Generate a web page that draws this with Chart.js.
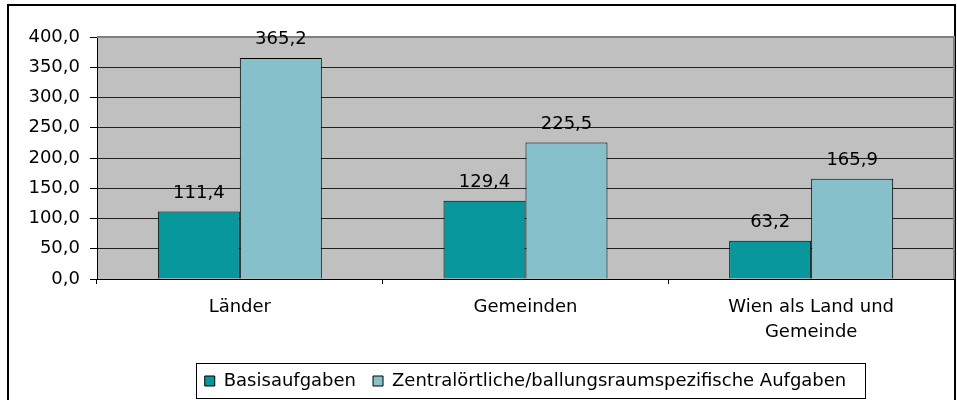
<!DOCTYPE html>
<html>
<head>
<meta charset="utf-8">
<script src="https://cdn.jsdelivr.net/npm/chart.js@4.4.1/dist/chart.umd.min.js"></script>
<style>
  html, body { margin: 0; padding: 0; background: #fff; }
  #wrap { width: 957px; height: 400px; position: relative; }
</style>
</head>
<body>
<div id="wrap"><canvas id="chart" width="957" height="400"></canvas></div>
<script>
// ---- Daten ----
const categories = ["Länder", "Gemeinden", ["Wien als Land und", "Gemeinde"]];
const basisValues = [111.4, 129.4, 63.2];
const zentralValues = [365.2, 225.5, 165.9];
const seriesNames = ["Basisaufgaben", "Zentralörtliche/ballungsraumspezifische Aufgaben"];
const yTicks = [0, 50, 100, 150, 200, 250, 300, 350, 400];

const fmt = v => v.toFixed(1).replace(".", ",");

Chart.defaults.font.family = "'DejaVu Sans', sans-serif";
Chart.defaults.font.size = 18;
Chart.defaults.color = "#000";

// Hintergrund, Rahmen, Beschriftungen
const decor = {
  id: "decor",
  beforeDraw(chart) {
    const c = chart.ctx, a = chart.chartArea;
    c.save();
    c.fillStyle = "#fff";
    c.fillRect(0, 0, chart.width, chart.height);
    c.lineWidth = 2;
    c.strokeStyle = "#000";
    c.strokeRect(8, 5, 947, 410);
    c.fillStyle = "#c0c0c0";
    c.fillRect(a.left, a.top, a.right - a.left, a.bottom - a.top);
    c.restore();
  },
  beforeDatasetsDraw(chart) {
    const c = chart.ctx, a = chart.chartArea;
    c.save();
    c.strokeStyle = "#808080";
    c.lineWidth = 2;
    c.beginPath();
    c.moveTo(a.left, a.top);
    c.lineTo(a.right, a.top);
    c.lineTo(a.right, a.bottom);
    c.stroke();
    c.restore();
  },
  afterDraw(chart) {
    const c = chart.ctx;
    c.save();
    c.font = "18px 'DejaVu Sans', sans-serif";
    c.fillStyle = "#000";
    c.textAlign = "center";
    c.textBaseline = "alphabetic";
    chart.data.datasets.forEach((ds, i) => {
      chart.getDatasetMeta(i).data.forEach((bar, j) => {
        c.fillText(fmt(ds.data[j]), bar.x, bar.y - 14);
      });
    });
    // Legendenrahmen
    const hb = chart.legend.legendHitBoxes;
    if (hb && hb.length) {
      const l = Math.min(...hb.map(h => h.left)) - 9;
      const r = Math.max(...hb.map(h => h.left + h.width)) + 18;
      const t = hb[0].top - 9;
      const b = hb[0].top + hb[0].height + 8;
      c.strokeStyle = "#000";
      c.lineWidth = 1;
      c.strokeRect(Math.round(l) + 0.5, Math.round(t) + 0.5, Math.round(r - l), Math.round(b - t));
    }
    c.restore();
  }
};

new Chart(document.getElementById("chart"), {
  type: "bar",
  data: {
    labels: categories,
    datasets: [
      {
        label: seriesNames[0],
        data: basisValues,
        backgroundColor: "#08979c",
        borderColor: "#000",
        borderWidth: 1,
        categoryPercentage: 0.574,
        barPercentage: 1
      },
      {
        label: seriesNames[1],
        data: zentralValues,
        backgroundColor: "#86c1cb",
        borderColor: "#000",
        borderWidth: 1,
        categoryPercentage: 0.574,
        barPercentage: 1
      }
    ]
  },
  options: {
    responsive: false,
    animation: false,
    layout: { padding: { left: 8, right: 3, top: 37, bottom: 0 } },
    plugins: {
      tooltip: { enabled: false },
      legend: {
        position: "bottom",
        fullSize: false,
        labels: {
          boxWidth: 10,
          boxHeight: 10,
          padding: 17,
          color: "#000",
          font: { size: 18 }
        }
      }
    },
    scales: {
      x: {
        afterFit(scale) { scale.height = 76; },
        border: { color: "#000", width: 1 },
        grid: { drawOnChartArea: false, drawTicks: true, tickLength: 5, tickColor: "#000" },
        ticks: { padding: 11, maxRotation: 0, font: { size: 18, lineHeight: 1.4 } }
      },
      y: {
        min: 0,
        max: 400,
        afterFit(scale) { scale.width = 89; },
        afterBuildTicks(scale) { scale.ticks = yTicks.map(v => ({ value: v })); },
        border: { color: "#000", width: 1 },
        grid: {
          color: ctx => (ctx.tick && ctx.tick.value === 400 ? "#808080" : "#222"),
          tickColor: "#000",
          tickLength: 7,
          lineWidth: 1
        },
        ticks: { padding: 10, callback: v => fmt(v) }
      }
    }
  },
  plugins: [decor]
});
</script>
</body>
</html>
